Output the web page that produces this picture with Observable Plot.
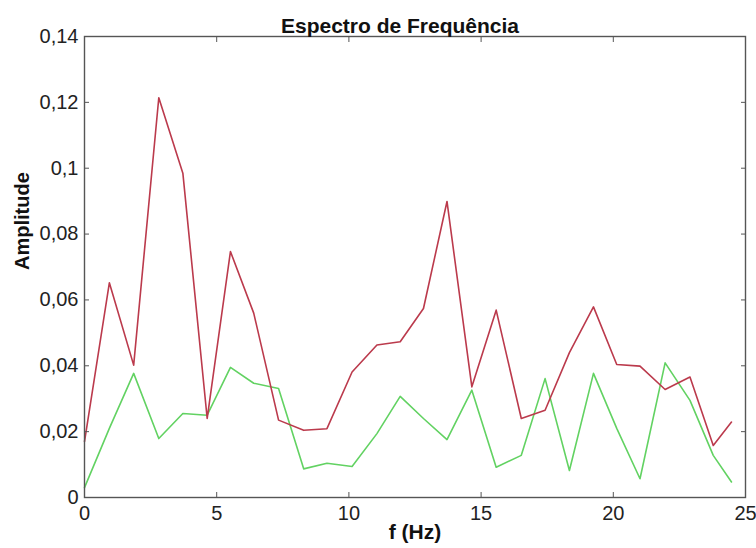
<!DOCTYPE html>
<html>
<head>
<meta charset="utf-8">
<script src="https://cdn.jsdelivr.net/npm/d3@7"></script>
<script src="https://cdn.jsdelivr.net/npm/@observablehq/plot@0.6"></script>
<style>
  html, body { margin: 0; padding: 0; background: #fff; }
</style>
</head>
<body>
<div id="chart"></div>
<script>
const freq = [0, 0.94, 1.86, 2.81, 3.72, 4.64, 5.52, 6.40, 7.34, 8.29, 9.17, 10.12, 11.06, 11.94,
  12.82, 13.71, 14.65, 15.57, 16.52, 17.42, 18.34, 19.25, 20.13, 21.01, 21.96, 22.90, 23.78, 24.47];
const redAmp = [0.017, 0.0652, 0.0402, 0.1214, 0.0985, 0.024, 0.0747, 0.056, 0.0235, 0.0204, 0.0209,
  0.0381, 0.0463, 0.0473, 0.0574, 0.0899, 0.0336, 0.0569, 0.024, 0.0265, 0.044, 0.0579, 0.0404,
  0.0399, 0.0328, 0.0366, 0.0158, 0.0229];
const greenAmp = [0.003, 0.021, 0.0377, 0.0179, 0.0255, 0.025, 0.0395, 0.0347, 0.0331, 0.0087, 0.0104,
  0.0094, 0.0194, 0.0307, 0.024, 0.0176, 0.0326, 0.0092, 0.0128, 0.0361, 0.0082, 0.0377, 0.021,
  0.0057, 0.0409, 0.0295, 0.0128, 0.0047];
const xTicks = [0, 5, 10, 15, 20, 25];
const xTickLabels = ["0", "5", "10", "15", "20", "25"];
const yTicks = [0, 0.02, 0.04, 0.06, 0.08, 0.1, 0.12, 0.14];
const yTickLabels = ["0", "0,02", "0,04", "0,06", "0,08", "0,1", "0,12", "0,14"];
const titleText = "Espectro de Frequência";
const xLabel = "f (Hz)";
const yLabel = "Amplitude";

const redData = freq.map((f, i) => ({f, a: redAmp[i]}));
const greenData = freq.map((f, i) => ({f, a: greenAmp[i]}));

const font = "'Liberation Sans', Arial, Helvetica, sans-serif";
const frameColor = "#555";

const chart = Plot.plot({
  width: 756,
  height: 548,
  marginLeft: 84,
  marginRight: 11,
  marginTop: 36,
  marginBottom: 51,
  style: {fontFamily: font, fontSize: "20px", color: "#222", background: "#fff"},
  x: {domain: [0, 25]},
  y: {domain: [0, 0.14]},
  marks: [
    Plot.line(greenData, {x: "f", y: "a", stroke: "#62d262", strokeWidth: 1.6}),
    Plot.line(redData, {x: "f", y: "a", stroke: "#bb3a4c", strokeWidth: 1.6}),
    Plot.frame({stroke: frameColor, strokeWidth: 1.4}),
    Plot.axisX({anchor: "bottom", ticks: xTicks, tickSize: -5, tickPadding: 13, stroke: frameColor,
      tickFormat: d => xTickLabels[xTicks.indexOf(d)], label: null, fill: "#222"}),
    Plot.axisX({anchor: "top", ticks: xTicks, tickSize: -5, stroke: frameColor,
      tickFormat: () => "", label: null}),
    Plot.axisY({anchor: "left", ticks: yTicks, tickSize: -5, tickPadding: 11, stroke: frameColor,
      tickFormat: d => yTickLabels[yTicks.indexOf(d)], label: null, fill: "#222"}),
    Plot.axisY({anchor: "right", ticks: yTicks, tickSize: -5, stroke: frameColor,
      tickFormat: () => "", label: null}),
    Plot.text([titleText], {frameAnchor: "top", dy: -18, dx: -15, fontWeight: "bold", fontSize: 21, fill: "#111"}),
    Plot.text([xLabel], {frameAnchor: "bottom", dy: 41, fontWeight: "bold", fontSize: 21, fill: "#111"}),
    Plot.text([yLabel], {frameAnchor: "left", dx: -62, dy: 3, rotate: -90, fontWeight: "bold", fontSize: 20, fill: "#111"})
  ]
});
document.getElementById("chart").appendChild(chart);
</script>
</body>
</html>
